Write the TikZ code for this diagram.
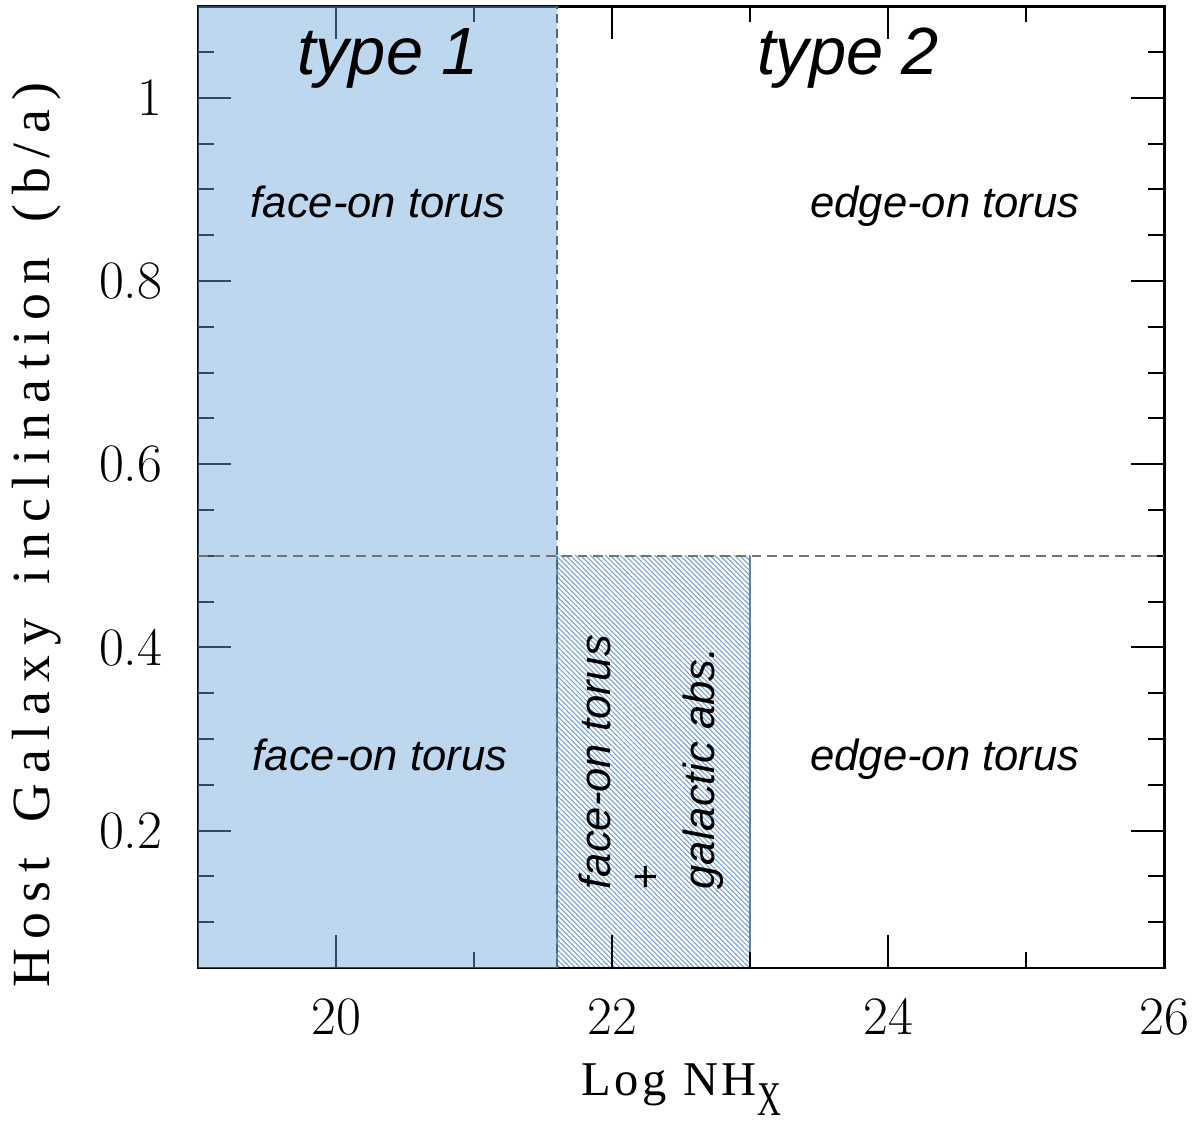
\documentclass[tikz,border=0pt]{standalone}
\usepackage{fontspec}
\usepackage{graphicx}
\usetikzlibrary{patterns.meta}
\newfontfamily\labfont[LetterSpace=8]{Liberation Serif}
\newfontfamily\ylabfont[LetterSpace=18, WordSpace=1.5]{Liberation Serif}
\newfontfamily\regfont{Liberation Sans}
\definecolor{bluefill}{RGB}{108,166,217}
\definecolor{hatchcol}{RGB}{115,160,205}
\definecolor{edgeblue}{RGB}{95,130,170}
\definecolor{dashblue}{RGB}{70,105,145}
\definecolor{dashgray}{RGB}{115,115,115}
\tikzset{
  axisline/.style={line width=0.85pt, black},
  tickline/.style={line width=0.55pt, black},
  ticklabel/.style={font=\fontsize{15.4}{17}\selectfont, inner sep=0pt},
  regionlabel/.style={font=\regfont\itshape\fontsize{12.4}{14}\selectfont, inner sep=0pt},
  typelabel/.style={font=\regfont\itshape\fontsize{19}{22}\selectfont, inner sep=0pt},
  axislabel/.style={font=\labfont\fontsize{13.8}{16}\selectfont, inner sep=0pt},
  yaxislabel/.style={font=\ylabfont\fontsize{15.3}{17}\selectfont, inner sep=0pt},
}
\begin{document}
\begin{tikzpicture}
\useasboundingbox (0,0) rectangle (12,-11.23);
\begin{scope}[shift={(1.98,-9.68)}, x=1.38cm, y=9.16cm, shift={(-19,-0.05)}]
  % hatched region
  \fill[white] (21.6,0.05) rectangle (23,0.5);
  \fill[pattern={Lines[angle=-45,distance=1pt,line width=0.3pt]}, pattern color=hatchcol]
    (21.6,0.05) rectangle (23,0.5);
  \draw[edgeblue, line width=0.45pt] (21.6,0.5) -- (21.6,0.05) -- (23,0.05) -- (23,0.5);
  % ticks
  \foreach \x in {20,22,24,26} {
    \draw[tickline] (\x,0.05) -- ++(0,0.33cm);
    \draw[tickline] (\x,1.1) -- ++(0,-0.33cm);
  }
  \foreach \x in {21,23,25} {
    \draw[tickline] (\x,0.05) -- ++(0,0.16cm);
    \draw[tickline] (\x,1.1) -- ++(0,-0.16cm);
  }
  \foreach \y in {0.2,0.4,0.6,0.8,1.0} {
    \draw[tickline] (19,\y) -- ++(0.33cm,0);
    \draw[tickline] (26,\y) -- ++(-0.33cm,0);
  }
  \foreach \y in {0.1,0.15,0.25,0.3,0.35,0.45,0.5,0.55,0.65,0.7,0.75,0.85,0.9,0.95,1.05} {
    \draw[tickline] (19,\y) -- ++(0.16cm,0);
    \draw[tickline] (26,\y) -- ++(-0.16cm,0);
  }
  % frame
  \draw[axisline] (19,0.05) rectangle (26,1.1);
  % blue region (type 1)
  \fill[bluefill, fill opacity=0.45] (19,0.05) rectangle (21.6,1.1);
  \draw[dashblue, line width=0.5pt, dash pattern=on 2.6pt off 1.6pt] (21.6,0.05) -- (21.6,1.1);
  % dashed b/a = 0.5 line
  \draw[dashgray, line width=0.5pt, dash pattern=on 2.8pt off 1.7pt] (19,0.5) -- (26,0.5);
  % tick labels
  \foreach \x [count=\i] in {20,22,24,26}
    \node[ticklabel, anchor=north, yshift=-0.30cm] (xl\i) at (\x,0.05) {\x};
  \foreach \y/\t [count=\i] in {0.2/0.2,0.4/0.4,0.6/0.6,0.8/0.8,1.0/1}
    \node[ticklabel, anchor=east, xshift=-0.35cm] (yl\i) at (19,\y) {\t};
\end{scope}
% region labels
\node[typelabel, anchor=base] (t1) at (3.88,-0.74) {type 1};
\node[typelabel, anchor=base] (t2) at (8.48,-0.74) {type 2};
\node[regionlabel, anchor=base] (fo1) at (3.78,-2.17) {face-on torus};
\node[regionlabel, anchor=base] (eo1) at (9.45,-2.17) {edge-on torus};
\node[regionlabel, anchor=base] (fo2) at (3.80,-7.70) {face-on torus};
\node[regionlabel, anchor=base] (eo2) at (9.45,-7.70) {edge-on torus};
\node[regionlabel, rotate=90, anchor=base west] (fo3) at (6.10,-8.90) {face-on torus};
\node[regionlabel] (plus) at (6.45,-8.79) {+};
\node[regionlabel, rotate=90, anchor=base west] (ga) at (7.14,-8.90) {galactic abs.};
% axis labels
\node[axislabel, anchor=base] (xlab) at (6.81,-10.95)
  {Log NH\raisebox{-0.42em}{\scalebox{0.68}[1]{X}}};
\node[yaxislabel, rotate=90, anchor=base] (ylab) at (0.50,-5.35)
  {Host Galaxy inclination (b/a)};
\end{tikzpicture}
\end{document}
